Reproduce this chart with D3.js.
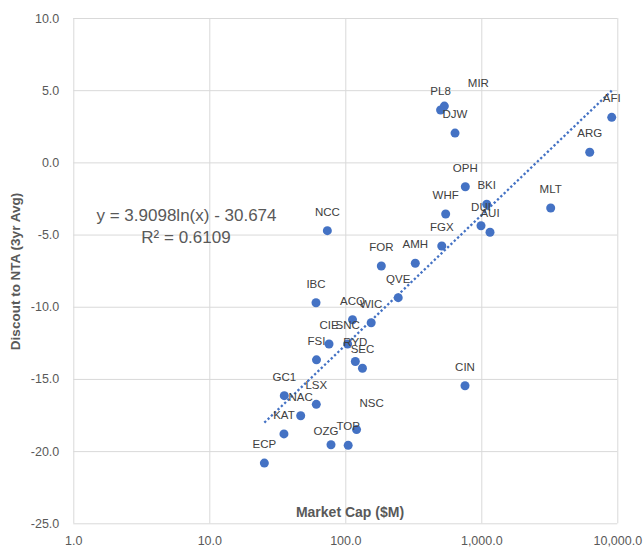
<!DOCTYPE html>
<html>
<head>
<meta charset="utf-8">
<script src="https://cdn.jsdelivr.net/npm/d3@7/dist/d3.min.js"></script>
<style>
  body { margin: 0; background: #fff; }
  svg { display: block; font-family: "Liberation Sans", Arial, sans-serif; }
</style>
</head>
<body>
<svg id="chart" width="644" height="548"></svg>
<script>
// ---- data ----
const tickers = ["PL8","MIR","DJW","AFI","ARG","OPH","BKI","MLT","WHF","DUI","AUI","FGX","NCC","FOR","AMH","QVE","IBC","ACQ","WIC","CIE","SNC","FSI","RYD","SEC","GC1","LSX","NAC","KAT","NSC","OZG","TOP","ECP","CIN"];
const marketCap = [502,535,641,9100,6270,763,1096,3238,547,995,1159,512,73.8,184,327,245,60.9,113,155,75.9,104,61.4,118.5,133.7,35.6,61.2,47.0,35.4,121,78.5,105,25.4,759];
const discount = [3.63,3.90,2.03,3.12,0.70,-1.69,-2.90,-3.16,-3.58,-4.39,-4.84,-5.79,-4.73,-7.18,-6.99,-9.37,-9.72,-10.90,-11.11,-12.58,-12.58,-13.68,-13.79,-14.26,-16.16,-16.76,-17.55,-18.81,-18.51,-19.56,-19.60,-20.83,-15.47];
const xTicks = [1,10,100,1000,10000];
const yTicks = [10,5,0,-5,-10,-15,-20,-25];
const trendA = 3.9098, trendB = -30.674;
const equationText = "y = 3.9098ln(x) - 30.674";
const r2Text = "R² = 0.6109";
const xTitle = "Market Cap ($M)";
const yTitle = "Discout  to NTA (3yr Avg)";

// ---- layout (not data) ----
const labelNudge = { MIR: [34, -4], NSC: [15, -8], OZG: [-5, 5] };
const L = 73.3, R = 617.3, T = 18, B = 523.3;
const blue = "#4472C4", grid = "#d9d9d9", txt = "#595959", lbl = "#404040";

const svg = d3.select("#chart");
const x = d3.scaleLog().domain([1, 10000]).range([L, R]);
const y = d3.scaleLinear().domain([-25, 10]).range([B, T]);

// Y grid + labels
const yAxis = d3.axisLeft(y).tickValues(yTicks).tickSize(-(R - L)).tickPadding(14)
  .tickFormat(d => d.toFixed(1));
const gy = svg.append("g").attr("transform", `translate(${L},0)`).call(yAxis);
gy.select(".domain").remove();
gy.selectAll("line").attr("stroke", grid).attr("stroke-width", 1);
gy.selectAll("text").attr("fill", txt).style("font-size", "12.5px").attr("font-family", "Liberation Sans, Arial, sans-serif");

// X grid + labels
const xAxis = d3.axisBottom(x).tickValues(xTicks).tickSize(-(B - T)).tickPadding(13)
  .tickFormat(d3.format(",.1f"));
const gx = svg.append("g").attr("transform", `translate(0,${B})`).call(xAxis);
gx.select(".domain").remove();
gx.selectAll("line").attr("stroke", grid).attr("stroke-width", 1);
gx.selectAll("text").attr("fill", txt).style("font-size", "12.5px").attr("font-family", "Liberation Sans, Arial, sans-serif");

// Trendline
const xmin = d3.min(marketCap), xmax = d3.max(marketCap);
const trendPts = d3.range(0, 201).map(i => {
  const xv = Math.exp(Math.log(xmin) + (Math.log(xmax) - Math.log(xmin)) * i / 200);
  return [xv, trendA * Math.log(xv) + trendB];
});
svg.append("path")
  .datum(trendPts)
  .attr("d", d3.line().x(d => x(d[0])).y(d => y(d[1])))
  .attr("fill", "none")
  .attr("stroke", blue)
  .attr("stroke-width", 2.3)
  .attr("stroke-dasharray", "2.3,2.3");

// Points
const data = tickers.map((t, i) => ({ t, mc: marketCap[i], d: discount[i] }));
svg.append("g").selectAll("circle").data(data).join("circle")
  .attr("cx", d => x(d.mc)).attr("cy", d => y(d.d)).attr("r", 4.5)
  .attr("fill", blue);

// Labels
svg.append("g").selectAll("text").data(data).join("text")
  .attr("x", d => x(d.mc) + (labelNudge[d.t] ? labelNudge[d.t][0] : 0))
  .attr("y", d => y(d.d) - 15 + (labelNudge[d.t] ? labelNudge[d.t][1] : 0))
  .attr("text-anchor", "middle")
  .attr("fill", lbl)
  .style("font-size", "11.5px")
  .text(d => d.t);

// Equation
const eq = svg.append("g").attr("fill", txt).style("font-size", "17px").attr("text-anchor", "middle");
eq.append("text").attr("x", 186.5).attr("y", 221).text(equationText);
eq.append("text").attr("x", 186).attr("y", 242.5).text(r2Text);

// Axis titles
svg.append("text").attr("x", 350).attr("y", 517).attr("text-anchor", "middle")
  .attr("fill", txt).style("font-size", "14px").style("font-weight", "bold").text(xTitle);
svg.append("text").attr("transform", "translate(20,271.5) rotate(-90)").attr("text-anchor", "middle")
  .attr("fill", txt).style("font-size", "13.5px").style("font-weight", "bold").text(yTitle);
</script>
</body>
</html>
